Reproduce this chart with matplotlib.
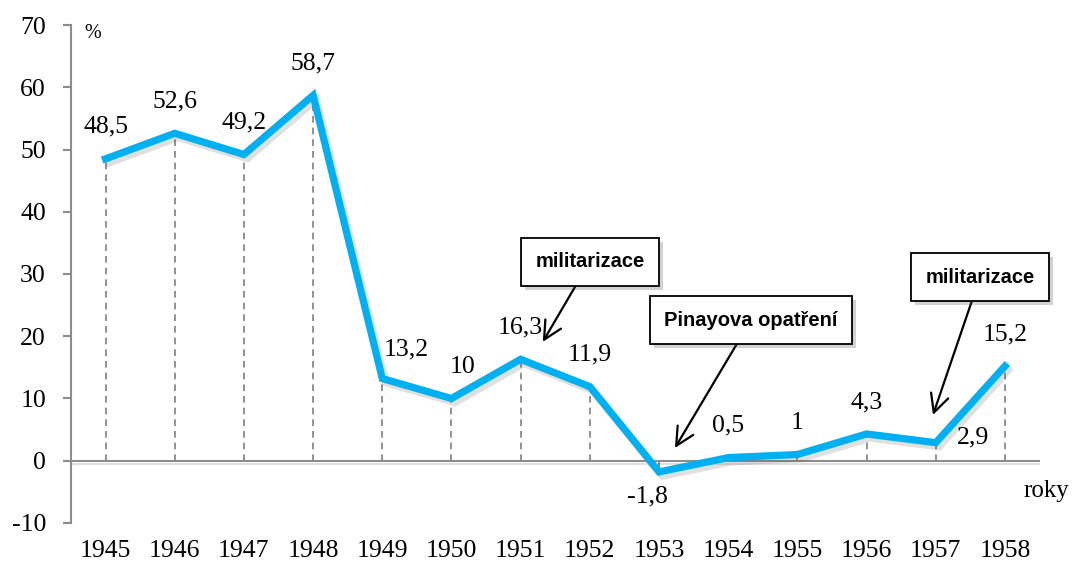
import matplotlib
matplotlib.use('Agg')
import matplotlib.pyplot as plt
import matplotlib.patheffects as pe

# data
roky = [1945, 1946, 1947, 1948, 1949, 1950, 1951, 1952, 1953, 1954, 1955, 1956, 1957, 1958]
hodnoty = [48.5, 52.6, 49.2, 58.7, 13.2, 10, 16.3, 11.9, -1.8, 0.5, 1, 4.3, 2.9, 15.2]
popisky = ['48,5', '52,6', '49,2', '58,7', '13,2', '10', '16,3', '11,9', '-1,8', '0,5', '1', '4,3', '2,9', '15,2']
y_ticks = [-10, 0, 10, 20, 30, 40, 50, 60, 70]

# offsety popisku (body)
posuny = {1949: (17, 21), 1950: (8, 23), 1953: (-8, -18), 1957: (27, 4)}

serif = 'Liberation Serif'
sedA = '#8c8c8c'

fig = plt.figure(figsize=(10.75, 5.74), dpi=100)
ax = fig.add_axes([0.066, 0.0889, 0.901, 0.8675])

ax.set_xlim(roky[0] - 0.5, roky[-1] + 0.5)
ax.set_ylim(-10, 70)

# svisle carkovane cary
ax.vlines(roky, 0, hodnoty, colors='#7f7f7f', linestyles=(0, (4, 3)), linewidth=1.2, zorder=2)
ax.axhline(0, color=sedA, linewidth=1.5, zorder=2,
           path_effects=[pe.SimpleLineShadow(offset=(1.5, -2), alpha=0.12), pe.Normal()])

ax.plot(roky, hodnoty, color='#00B0F0', linewidth=5.2, solid_joinstyle='miter', zorder=4,
        path_effects=[pe.SimpleLineShadow(offset=(2.5, -3), alpha=0.18, shadow_color='#555555'), pe.Normal()])

for r, h, p in zip(roky, hodnoty, popisky):
    dx, dy = posuny.get(r, (0, 23))
    ax.annotate(p, (r, h), xytext=(dx, dy), textcoords='offset points',
                ha='center', va='center', fontsize=18.5, family=serif, zorder=5)

# osy
for s in ['top', 'right', 'bottom']:
    ax.spines[s].set_visible(False)
ax.spines['left'].set_color(sedA)
ax.spines['left'].set_linewidth(1.5)
ax.set_yticks(y_ticks)
ax.set_yticklabels([str(v) for v in y_ticks], family=serif, fontsize=18.5)
ax.tick_params(axis='y', length=6, width=1.5, color=sedA, pad=12)
ax.set_xticks(roky)
ax.set_xticklabels([str(r) for r in roky], family=serif, fontsize=18.5)
ax.tick_params(axis='x', length=0, pad=12)

ax.text(1944.81, 68.7, '%', family=serif, fontsize=14.5, ha='center', va='center')
ax.text(1958.6, -4.9, 'roky', family=serif, fontsize=18, ha='center', va='center', clip_on=False)

# popisky s sipkami
def bublina(text, xy, xytext):
    a = ax.annotate(text, xy=xy, xytext=xytext, textcoords='data', ha='center', va='center',
                    fontsize=14.5, fontweight='bold', family='Liberation Sans', zorder=6,
                    annotation_clip=False,
                    bbox=dict(boxstyle='square,pad=0.72', fc='white', ec='black', lw=1.3),
                    arrowprops=dict(arrowstyle='->,head_length=0.9,head_width=0.45', color='black',
                                    lw=1.6, shrinkA=0, shrinkB=0))
    a.get_bbox_patch().set_path_effects([pe.SimplePatchShadow(offset=(3, -3), alpha=0.25), pe.Normal()])
    return a

bublina('militarizace', (1951.32, 19.1), (1952.0, 32.0))
bublina('Pinayova opatření', (1953.23, 2.05), (1954.33, 22.6))
bublina('militarizace', (1956.96, 7.35), (1957.64, 29.5))

fig.savefig('out.png', dpi=100)
